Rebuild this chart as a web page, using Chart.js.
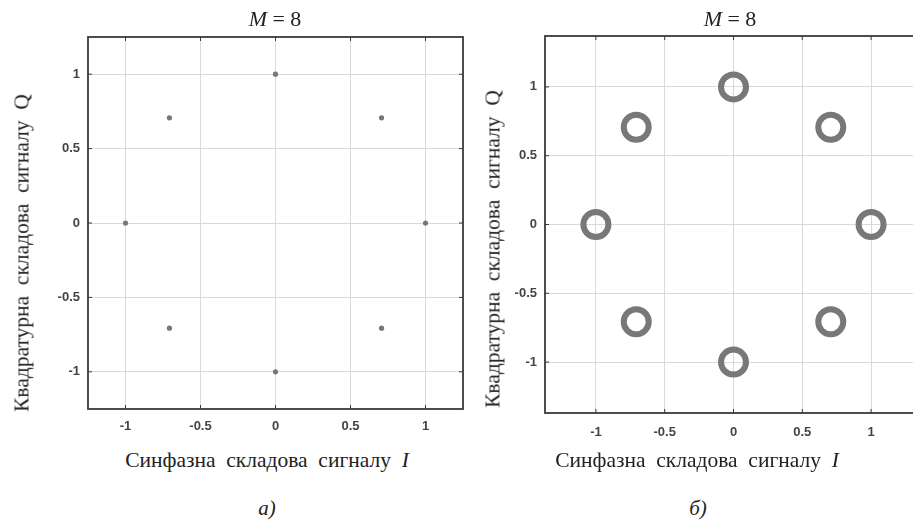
<!DOCTYPE html>
<html lang="uk">
<head>
  <meta charset="UTF-8">
  <title>M = 8</title>
  <script src="https://cdn.jsdelivr.net/npm/chart.js"></script>
  <style>
    body {
      margin: 0;
      width: 913px;
      height: 524px;
      overflow: hidden;
      background: #fff;
      position: relative;
      font-family: "Liberation Serif", serif;
      color: #222;
    }
    .box { position: absolute; }
    .lbl {
      position: absolute;
      white-space: pre;
      font-size: 21.5px;
      transform: translate(-50%, -50%);
    }
    .ylbl { transform: translate(-50%, -50%) rotate(-90deg); }
  </style>
</head>
<body>
  <div class="box" style="left:0;top:0;width:475px;height:440px;"><canvas id="chartA" width="475" height="440" style="width:475px;height:440px;"></canvas></div>
  <div class="box" style="left:455px;top:0;width:470px;height:444px;"><canvas id="chartB" width="470" height="444" style="width:470px;height:444px;"></canvas></div>

  <div class="lbl" style="left:275px;top:19px;font-size:22px;"><i>M</i> = 8</div>
  <div class="lbl" style="left:730px;top:19px;font-size:22px;"><i>M</i> = 8</div>
  <div class="lbl ylbl" style="left:22px;top:253px;">Квадратурна  складова  сигналу  Q</div>
  <div class="lbl ylbl" style="left:493px;top:249px;">Квадратурна  складова  сигналу  Q</div>
  <div class="lbl" style="left:267px;top:460px;">Синфазна  складова  сигналу  <i>I</i></div>
  <div class="lbl" style="left:697px;top:460px;">Синфазна  складова  сигналу  <i>I</i></div>
  <div class="lbl" style="left:267px;top:508px;font-size:21px;"><i>а)</i></div>
  <div class="lbl" style="left:698px;top:508px;font-size:21px;"><i>б)</i></div>

<script>
// 8-PSK constellation points (I, Q)
const pointsI = [1, 0.707, 0, -0.707, -1, -0.707, 0, 0.707];
const pointsQ = [0, 0.707, 1, 0.707, 0, -0.707, -1, -0.707];
const tickValues = [-1, -0.5, 0, 0.5, 1];
const limitA = 1.25;
const limitB = 1.37;

// full box + small inward ticks, like matlab axes
const boxPlugin = {
  id: 'boxPlugin',
  afterDraw(chart) {
    const ctx = chart.ctx;
    const a = chart.chartArea;
    const xs = chart.scales.x, ys = chart.scales.y;
    ctx.save();
    ctx.strokeStyle = '#3a3a3a';
    ctx.lineWidth = 1;
    tickValues.forEach(v => {
      const px = xs.getPixelForValue(v);
      const py = ys.getPixelForValue(v);
      ctx.beginPath();
      ctx.moveTo(px, a.top); ctx.lineTo(px, a.top + 4);
      ctx.moveTo(px, a.bottom); ctx.lineTo(px, a.bottom - 4);
      ctx.moveTo(a.left, py); ctx.lineTo(a.left + 4, py);
      ctx.moveTo(a.right, py); ctx.lineTo(a.right - 4, py);
      ctx.stroke();
    });
    ctx.lineWidth = 1.8;
    ctx.strokeRect(a.left, a.top, a.right - a.left, a.bottom - a.top);
    ctx.restore();
  }
};

function makeAxis(limit, fixedSize, isX, pad) {
  return {
    type: 'linear',
    min: -limit,
    max: limit,
    afterBuildTicks: s => { s.ticks = tickValues.map(v => ({ value: v })); },
    afterFit: s => { if (isX) s.height = fixedSize; else s.width = fixedSize; },
    grid: { color: '#d9d9d9', lineWidth: 1, drawTicks: false },
    border: { display: false },
    ticks: {
      padding: pad,
      color: '#444',
      font: { family: 'Liberation Sans', size: 13, weight: 'bold' },
      callback: v => String(v)
    }
  };
}

function makeChart(id, limit, pointStyle, padding, xPad) {
  const data = pointsI.map((x, i) => ({ x: x, y: pointsQ[i] }));
  return new Chart(document.getElementById(id), {
    type: 'scatter',
    data: {
      datasets: [Object.assign({ data: data }, pointStyle)]
    },
    options: {
      responsive: false,
      animation: false,
      layout: { padding: padding, autoPadding: false },
      plugins: { legend: { display: false }, tooltip: { enabled: false } },
      scales: {
        x: makeAxis(limit, 31, true, xPad),
        y: makeAxis(limit, 50, false, 8)
      }
    },
    plugins: [boxPlugin]
  });
}

makeChart('chartA', limitA, {
  pointRadius: 2.6,
  backgroundColor: '#777',
  borderColor: '#777',
  borderWidth: 0
}, { left: 38, top: 37, right: 12, bottom: 0 }, 10);

makeChart('chartB', limitB, {
  pointRadius: 12.5,
  backgroundColor: 'rgba(0,0,0,0)',
  borderColor: '#787878',
  borderWidth: 6
}, { left: 40, top: 36, right: 3, bottom: 0 }, 12);
</script>
</body>
</html>
